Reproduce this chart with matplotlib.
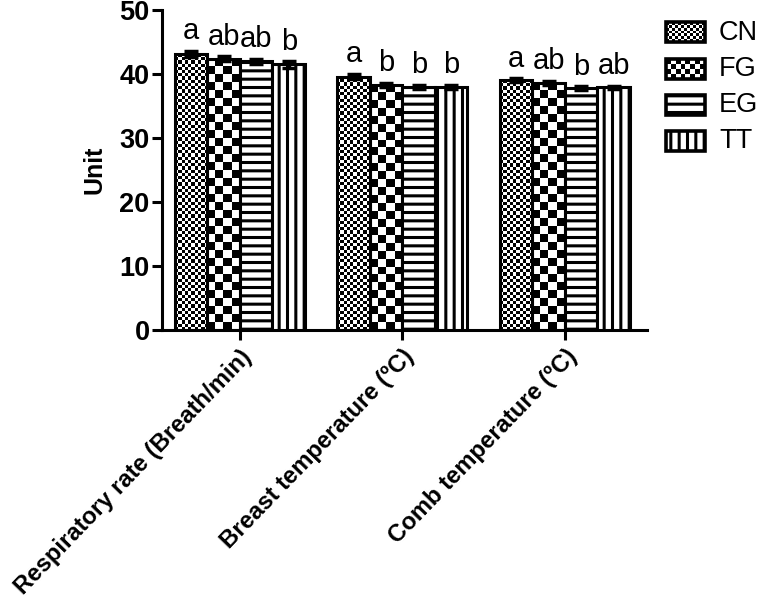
import matplotlib
matplotlib.use("Agg")
import matplotlib.pyplot as plt
from matplotlib.patches import Rectangle
import numpy as np

categories = ["Respiratory rate (Breath/min)", "Breast temperature (ºC)", "Comb temperature (ºC)"]
groups = ["CN", "FG", "EG", "TT"]
values = {
    "CN": [43.1, 39.6, 39.0],
    "FG": [42.4, 38.3, 38.6],
    "EG": [42.0, 38.0, 37.8],
    "TT": [41.5, 38.0, 37.9],
}
errors = {
    "CN": [0.5, 0.4, 0.3],
    "FG": [0.4, 0.3, 0.3],
    "EG": [0.4, 0.3, 0.3],
    "TT": [0.5, 0.3, 0.3],
}
letters = {
    "CN": ["a", "a", "a"],
    "FG": ["ab", "b", "ab"],
    "EG": ["ab", "b", "b"],
    "TT": ["b", "b", "ab"],
}

plt.rcParams['font.family'] = ['Liberation Sans', 'DejaVu Sans']
plt.rcParams['hatch.linewidth'] = 2.2
plt.rcParams['hatch.color'] = 'black'

fig = plt.figure(figsize=(7.58, 6.02), dpi=100)
ax = fig.add_axes([162/758, 1-330/602, (647-162)/758, 320/602])

x = np.arange(len(categories))
width = 0.2
hatches = {"CN": None, "FG": None, "EG": "--", "TT": "||"}
checker = {"CN": 3.2, "FG": 8.0}

ax.set_xlim(-0.48, 2.505)
ax.set_ylim(0, 50)

bars_all = {}
for i, g in enumerate(groups):
    pos = x + (i - 1.5) * width
    bars = ax.bar(pos, values[g], width, yerr=errors[g], facecolor='none' if g in checker else 'white',
                  edgecolor='black', linewidth=2.2, hatch=hatches[g], zorder=3,
                  error_kw=dict(ecolor='black', elinewidth=2.5, capsize=5, capthick=2.5, zorder=4))
    bars_all[g] = bars
    for j, b in enumerate(bars):
        ax.annotate(letters[g][j], (b.get_x() + b.get_width()/2, values[g][j] + errors[g][j]),
                    xytext=(0, 4), textcoords='offset points', ha='center', va='bottom',
                    fontsize=21, zorder=5)

fig.canvas.draw()
for g, cell in checker.items():
    for j, b in enumerate(bars_all[g]):
        x0, x1 = b.get_x(), b.get_x() + b.get_width()
        h = b.get_height()
        p0 = ax.transData.transform((x0, 0))
        p1 = ax.transData.transform((x1, h))
        nx = max(1, int(round((p1[0]-p0[0]) / cell)))
        ny = max(1, int(round((p1[1]-p0[1]) / cell)))
        arr = (np.add.outer(np.arange(ny), np.arange(nx)) % 2).astype(float)
        im = ax.imshow(arr, cmap='gray', extent=(x0, x1, 0, h), interpolation='nearest',
                       aspect='auto', zorder=2, origin='lower')
        im.set_clip_path(b)

ax.set_xlim(-0.48, 2.505)
ax.set_ylim(0, 50)

for s in ['top', 'right']:
    ax.spines[s].set_visible(False)
for s in ['left', 'bottom']:
    ax.spines[s].set_linewidth(2.2)

ax.set_yticks([0, 10, 20, 30, 40, 50])
ax.tick_params(axis='y', width=2.2, length=7, labelsize=19.5, direction='out', pad=2)
ax.tick_params(axis='x', width=2.2, length=7, labelsize=17.2, direction='out', pad=4)
for lab in ax.get_yticklabels():
    lab.set_fontweight('bold')
ax.set_xticks(x)
ax.set_xticklabels(categories, rotation=46, ha='right', rotation_mode='anchor', fontweight='bold')
ax.set_ylabel("Unit", fontsize=18, fontweight='bold', labelpad=9)

# legend drawn in a pixel-coordinate overlay
lax = fig.add_axes([0, 0, 1, 1], zorder=10)
lax.set_xlim(0, 758)
lax.set_ylim(602, 0)
lax.axis('off')
lax.patch.set_alpha(0)
leg_y = [22, 59, 95, 131]
hx0, hx1, hh = 666, 705, 20
leg_hatch = {"CN": None, "FG": None, "EG": "--", "TT": "||"}
leg_cell = {"CN": 3.0, "FG": 5.0}
for g, y0 in zip(groups, leg_y):
    r = Rectangle((hx0, y0), hx1 - hx0, hh, facecolor='white' if g not in leg_cell else 'none',
                  edgecolor='black', linewidth=2.6, hatch=leg_hatch[g], zorder=3)
    lax.add_patch(r)
    if g in leg_cell:
        c = leg_cell[g]
        nx = int(round((hx1 - hx0) / c))
        ny = int(round(hh / c))
        arr = (np.add.outer(np.arange(ny), np.arange(nx)) % 2).astype(float)
        im = lax.imshow(arr, cmap='gray', extent=(hx0, hx1, y0 + hh, y0), interpolation='nearest',
                        aspect='auto', zorder=2)
        im.set_clip_path(r)
    lax.text(719, y0 + hh/2 + 0.5, g, fontsize=19.5, va='center', ha='left')
lax.set_xlim(0, 758)
lax.set_ylim(602, 0)

fig.savefig("out.png", dpi=100)
